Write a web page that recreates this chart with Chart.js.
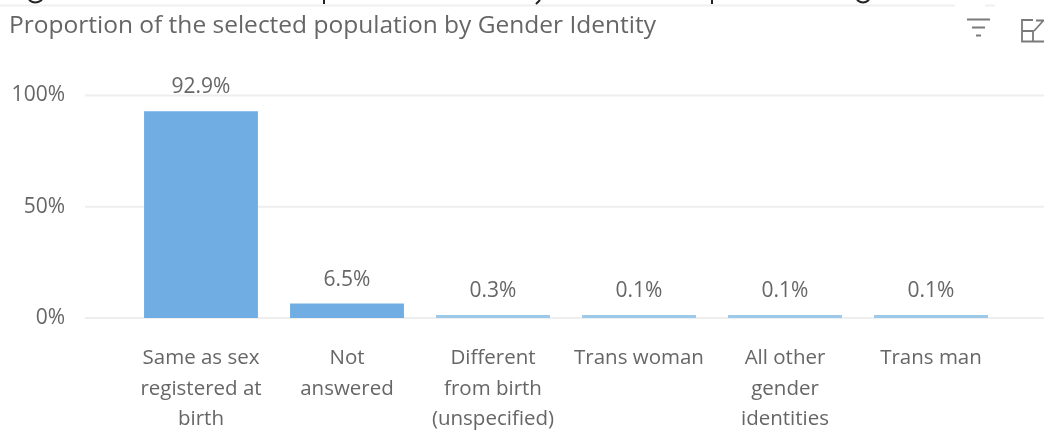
<!DOCTYPE html>
<html>
<head>
<meta charset="utf-8">
<style>
  html, body { margin: 0; padding: 0; background: #fff; overflow: hidden; }
  #wrap { position: relative; width: 1044px; height: 437px; }
  canvas { display: block; }
  #chrome { position: absolute; left: 0; top: 0; }
</style>
<script src="https://cdn.jsdelivr.net/npm/chart.js@4"></script>
</head>
<body>
<div id="wrap">
  <canvas id="genderChart" width="1044" height="437"></canvas>
  <svg id="chrome" width="1044" height="60" fill="none">
    <!-- 위쪽 잘린 제목 흔적과 구분선 -->
    <path d="M0 5.5H955M985 5.5H995" stroke="#efefef" stroke-width="2"/>
    <path d="M29 0Q35 5 42 0M324 0V4M540 0L536 4M712 0V4M857 0Q863 5 869 0" stroke="#222" stroke-width="2"/>
    <!-- 필터 아이콘 -->
    <path d="M967 19.5H990M972 27.5H985M976 35.5H981" stroke="#7a7a7a" stroke-width="1.8"/>
    <!-- 확대 아이콘 -->
    <path d="M1033 20H1022V41.5H1044M1022 31H1033V41.5M1034 31L1043 21M1036 20.5H1044" stroke="#7a7a7a" stroke-width="1.8"/>
  </svg>
</div>
<script>
const categories = [
  ['Same as sex', 'registered at', 'birth'],
  ['Not', 'answered'],
  ['Different', 'from birth', '(unspecified)'],
  'Trans woman',
  ['All other', 'gender', 'identities'],
  'Trans man'
];
const proportions = [92.9, 6.5, 0.3, 0.1, 0.1, 0.1];
const yTicks = [0, 50, 100];

const FONT = '"Open Sans", "Noto Sans", sans-serif';
const TEXT = '#666666';

// 격자선은 차트 영역 밖까지 이어지므로 직접 그림
const wideGrid = {
  id: 'wideGrid',
  beforeDatasetsDraw(chart) {
    const ctx = chart.ctx;
    const y = chart.scales.y;
    ctx.save();
    ctx.strokeStyle = '#eeeeee';
    ctx.lineWidth = 2;
    yTicks.forEach(v => {
      ctx.beginPath();
      ctx.moveTo(85, y.getPixelForValue(v));
      ctx.lineTo(chart.width, y.getPixelForValue(v));
      ctx.stroke();
    });
    ctx.restore();
  }
};

// 막대 위 값 표시
const valueLabels = {
  id: 'valueLabels',
  afterDatasetsDraw(chart) {
    const ctx = chart.ctx;
    ctx.save();
    ctx.font = '21px ' + FONT;
    ctx.fillStyle = TEXT;
    ctx.textAlign = 'center';
    chart.getDatasetMeta(0).data.forEach((bar, i) => {
      ctx.fillText(proportions[i].toFixed(1) + '%', bar.x, bar.y - 18);
    });
    ctx.restore();
  }
};

new Chart(document.getElementById('genderChart'), {
  type: 'bar',
  data: {
    labels: categories,
    datasets: [{
      data: proportions,
      backgroundColor: c => c.raw < 1 ? '#9cc8ea' : '#70ade2',
      categoryPercentage: 1,
      barPercentage: 0.78,
      minBarLength: 3
    }]
  },
  options: {
    responsive: false,
    animation: false,
    layout: { padding: { left: 9, right: 40, top: 0, bottom: 0 } },
    plugins: {
      legend: { display: false },
      tooltip: { enabled: false },
      title: {
        display: true,
        text: 'Proportion of the selected population by Gender Identity',
        align: 'start',
        color: TEXT,
        font: { family: FONT, size: 24.5, weight: 'normal' },
        padding: { top: 11, bottom: 55 }
      }
    },
    scales: {
      x: {
        afterFit(axis) { axis.height = 119; },
        grid: { display: false },
        border: { display: false },
        ticks: {
          color: TEXT,
          font: { family: FONT, size: 20.5, lineHeight: 1.49 },
          maxRotation: 0,
          autoSkip: false,
          padding: 17
        }
      },
      y: {
        min: 0,
        max: 100,
        afterFit(axis) { axis.width = 119; },
        afterBuildTicks(axis) { axis.ticks = yTicks.map(v => ({ value: v })); },
        grid: { display: false, drawTicks: false },
        border: { display: false },
        ticks: {
          color: TEXT,
          font: { family: FONT, size: 21 },
          padding: 63,
          callback: v => v + '%'
        }
      }
    }
  },
  plugins: [wideGrid, valueLabels]
});
</script>
</body>
</html>
